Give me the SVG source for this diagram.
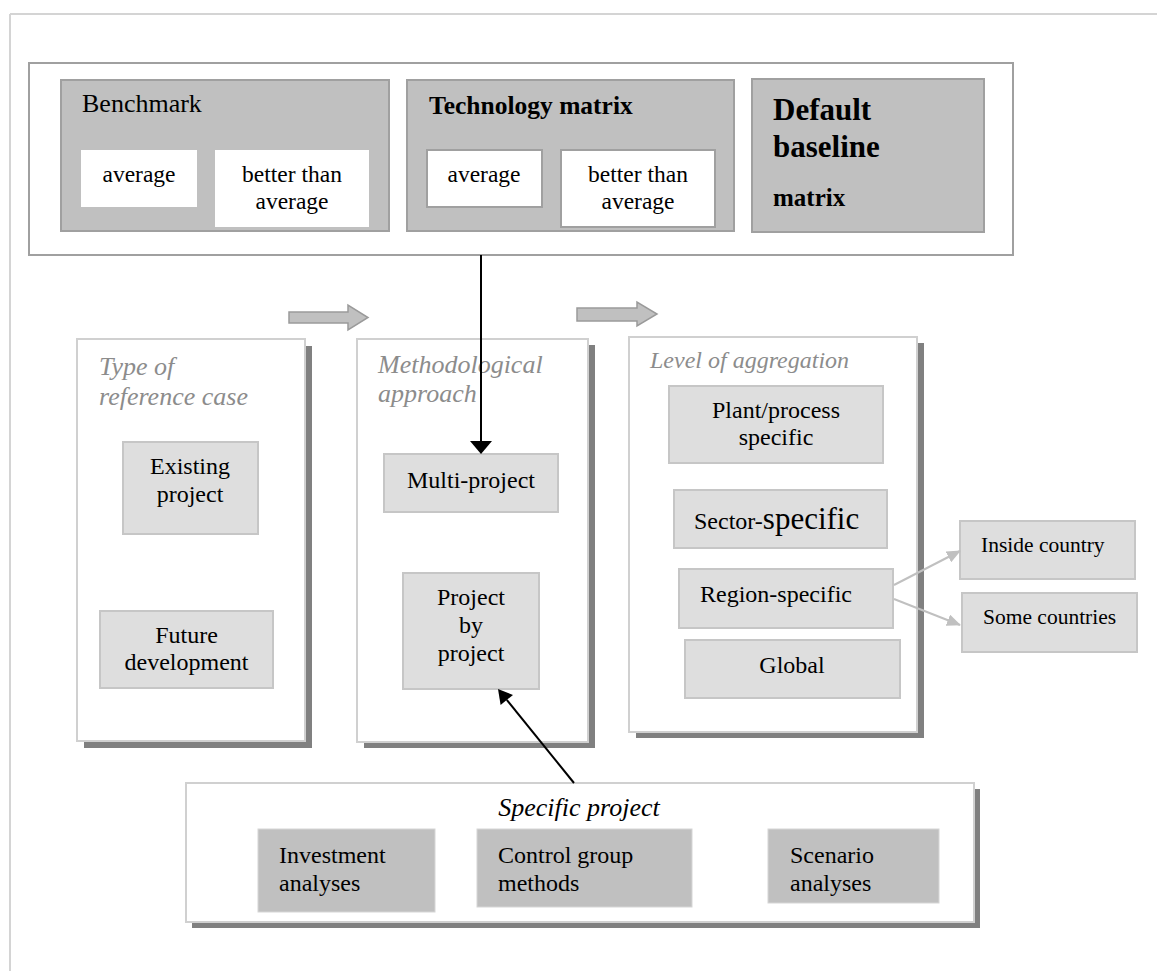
<svg xmlns="http://www.w3.org/2000/svg" width="1157" height="971" viewBox="0 0 1157 971">
<defs>
<style>
text{font-family:"Liberation Serif","Times New Roman",serif;fill:#000}
.t24{font-size:24px}
.t23{font-size:23.5px}
.c{text-anchor:middle}
.ttl{font-style:italic;fill:#8c8c8c;font-size:26px}
.panel{fill:#fff;stroke:#d0d0d0;stroke-width:2}
.shadow{fill:#808080}
.inner{fill:#dedede;stroke:#c6c6c6;stroke-width:2}
.dark{fill:#c0c0c0;stroke:#a0a0a0;stroke-width:2}
.wbox{fill:#fff;stroke:#a0a0a0;stroke-width:2}
.blk{fill:#c0c0c0;stroke:#9a9a9a;stroke-width:1.5}
.gcon{stroke:#c0c0c0;stroke-width:2;fill:none}
</style>
<marker id="ga" markerWidth="14" markerHeight="12" refX="13" refY="6" orient="auto" markerUnits="userSpaceOnUse">
<path d="M0,0 L14,6 L0,12 Z" fill="#c0c0c0"/>
</marker>
</defs>

<g id="page-border">
<line x1="10" y1="14" x2="1157" y2="14" stroke="#d4d4d4" stroke-width="2"/>
<line x1="10" y1="14" x2="10" y2="971" stroke="#d4d4d4" stroke-width="2"/>
</g>

<g id="top-group">
<rect x="29" y="63" width="984" height="192" fill="#fff" stroke="#a0a0a0" stroke-width="2"/>
</g>

<g id="benchmark">
<rect class="dark" x="61" y="80" width="328" height="151"/>
<text x="82" y="112" style="font-size:26px">Benchmark</text>
<rect x="81" y="150" width="116" height="57" fill="#fff"/>
<text class="t23 c" x="139" y="182">average</text>
<rect x="215" y="150" width="154" height="77" fill="#fff"/>
<text class="t23 c" x="292" y="182">better than</text>
<text class="t23 c" x="292" y="209">average</text>
</g>

<g id="technology-matrix">
<rect class="dark" x="407" y="80" width="327" height="151"/>
<text x="429" y="114" style="font-size:25.5px;font-weight:bold">Technology matrix</text>
<rect class="wbox" x="427" y="150" width="115" height="57"/>
<text class="t23 c" x="484" y="182">average</text>
<rect class="wbox" x="561" y="150" width="154" height="77"/>
<text class="t23 c" x="638" y="182">better than</text>
<text class="t23 c" x="638" y="209">average</text>
</g>

<g id="default-baseline">
<rect class="dark" x="752" y="79" width="232" height="153"/>
<text x="773" y="120" style="font-size:31px;font-weight:bold">Default</text>
<text x="773" y="157" style="font-size:31px;font-weight:bold">baseline</text>
<text x="773" y="206" style="font-size:25px;font-weight:bold">matrix</text>
</g>

<g id="flow-arrows">
<polygon class="blk" points="289,312 348,312 348,305 368,317.5 348,330 348,323 289,323"/>
<polygon class="blk" points="577,308 637,308 637,302 657,314 637,326 637,321 577,321"/>
</g>

<g id="type-of-reference-case">
<rect class="shadow" x="84" y="346" width="228" height="402"/>
<rect class="panel" x="77" y="339" width="228" height="402"/>
<text class="ttl" x="99" y="375">Type of</text>
<text class="ttl" x="99" y="405">reference case</text>
</g>
<g id="existing-project">
<rect class="inner" x="123" y="442" width="135" height="92"/>
<text class="t24 c" x="190" y="474">Existing</text>
<text class="t24 c" x="190" y="502">project</text>
</g>
<g id="future-development">
<rect class="inner" x="100" y="611" width="173" height="77"/>
<text class="t24 c" x="186.5" y="643">Future</text>
<text class="t24 c" x="186.5" y="670">development</text>
</g>

<g id="methodological-approach">
<rect class="shadow" x="364" y="345" width="231" height="403"/>
<rect class="panel" x="357" y="339" width="231" height="403"/>
<text class="ttl" x="378" y="373">Methodological</text>
<text class="ttl" x="378" y="402">approach</text>
</g>
<g id="multi-project">
<rect class="inner" x="384" y="454" width="174" height="58"/>
<text class="t24 c" x="471" y="488">Multi-project</text>
</g>
<g id="project-by-project">
<rect class="inner" x="403" y="573" width="136" height="116"/>
<text class="t24 c" x="471" y="605">Project</text>
<text class="t24 c" x="471" y="633">by</text>
<text class="t24 c" x="471" y="661">project</text>
</g>

<g id="level-of-aggregation">
<rect class="shadow" x="636" y="343" width="288" height="395"/>
<rect class="panel" x="629" y="337" width="288" height="395"/>
<text class="ttl" x="650" y="368" style="font-size:24px">Level of aggregation</text>
</g>
<g id="plant-process-specific">
<rect class="inner" x="669" y="386" width="214" height="77"/>
<text class="t24 c" x="776" y="418">Plant/process</text>
<text class="t24 c" x="776" y="445">specific</text>
</g>
<g id="sector-specific">
<rect class="inner" x="674" y="490" width="213" height="58"/>
<text x="694" y="529"><tspan style="font-size:24px">Sector-</tspan><tspan style="font-size:31px">specific</tspan></text>
</g>
<g id="region-specific">
<rect class="inner" x="679" y="569" width="214" height="59"/>
<text class="t24" x="700" y="602">Region-specific</text>
</g>
<g id="global">
<rect class="inner" x="685" y="640" width="215" height="58"/>
<text class="t24 c" x="792" y="673">Global</text>
</g>
<g id="inside-country">
<rect class="inner" x="960" y="521" width="175" height="58"/>
<text x="981" y="552" style="font-size:21.5px">Inside country</text>
</g>
<g id="some-countries">
<rect class="inner" x="962" y="593" width="175" height="59"/>
<text x="983" y="624" style="font-size:21.5px">Some countries</text>
</g>

<g id="specific-project">
<rect class="shadow" x="192" y="789" width="788" height="139"/>
<rect class="panel" x="186" y="783" width="788" height="139"/>
<text class="c" x="579" y="816" style="font-size:26px;font-style:italic">Specific project</text>
</g>
<g id="investment-analyses">
<rect x="258" y="829" width="177" height="83" fill="#c0c0c0" stroke="#d6d6d6" stroke-width="1"/>
<text class="t24" x="279" y="863">Investment</text>
<text class="t24" x="279" y="891">analyses</text>
</g>
<g id="control-group-methods">
<rect x="477" y="829" width="215" height="78" fill="#c0c0c0" stroke="#d6d6d6" stroke-width="1"/>
<text class="t24" x="498" y="863">Control group</text>
<text class="t24" x="498" y="891">methods</text>
</g>
<g id="scenario-analyses">
<rect x="768" y="829" width="171" height="74" fill="#c0c0c0" stroke="#d6d6d6" stroke-width="1"/>
<text class="t24" x="790" y="863">Scenario</text>
<text class="t24" x="790" y="891">analyses</text>
</g>

<g id="connectors">
<line x1="481" y1="255" x2="481" y2="442" stroke="#000" stroke-width="2"/>
<polygon points="470,441 492,441 481,454" fill="#000"/>
<line x1="574" y1="783" x2="506.8" y2="699.9" stroke="#000" stroke-width="2"/>
<polygon points="498,689 513,694.9 500.6,704.9" fill="#000"/>
<line class="gcon" x1="894" y1="585" x2="960" y2="551" marker-end="url(#ga)"/>
<line class="gcon" x1="894" y1="599" x2="960" y2="625" marker-end="url(#ga)"/>
</g>
</svg>
